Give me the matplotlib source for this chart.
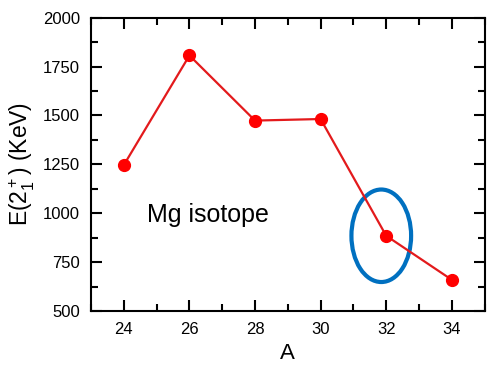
import matplotlib
matplotlib.use("Agg")
import matplotlib.pyplot as plt
from matplotlib.patches import Ellipse
from matplotlib.ticker import MultipleLocator

plt.rcParams['font.family'] = ['Liberation Sans', 'DejaVu Sans']
plt.rcParams['mathtext.fontset'] = 'custom'
plt.rcParams['mathtext.rm'] = 'Liberation Sans'
plt.rcParams['mathtext.it'] = 'Liberation Sans'

# mass number and first 2+ excitation energy
mass = [24, 26, 28, 30, 32, 34]
energy = [1247, 1807, 1474, 1482, 885, 660]

fig = plt.figure(figsize=(4.87, 3.69), dpi=100)
ax = fig.add_axes([0.187, 0.157, 0.808, 0.795])

ax.plot(mass, energy, color='#e31a1c', lw=1.6, marker='o', ms=8.5,
        markerfacecolor='#ff0000', markeredgecolor='#ff0000')

ax.add_patch(Ellipse((31.85, 885), 1.82, 473, fill=False,
                     edgecolor='#0070c0', lw=3))

ax.text(24.72, 957, "Mg isotope", fontsize=18, ha='left', va='baseline')

ax.set_xlim(23, 35)
ax.set_ylim(500, 2000)
ax.xaxis.set_major_locator(MultipleLocator(2))
ax.xaxis.set_minor_locator(MultipleLocator(1))
ax.yaxis.set_major_locator(MultipleLocator(250))
ax.yaxis.set_minor_locator(MultipleLocator(125))
ax.tick_params(which='both', direction='in', top=True, right=True,
               labelsize=12, width=1.5)
ax.tick_params(which='major', length=8, pad=8)
ax.tick_params(which='minor', length=5)
for s in ax.spines.values():
    s.set_linewidth(1.5)

ax.set_xlabel("A", fontsize=16, labelpad=4)
ax.set_ylabel(r"E(2$_1^+$) (KeV)", fontsize=16.5, labelpad=4)

fig.savefig("out.png", dpi=100)
